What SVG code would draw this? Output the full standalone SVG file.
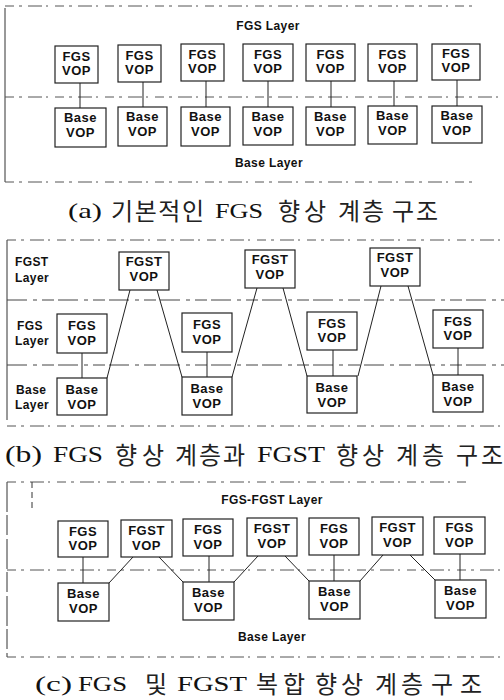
<svg xmlns="http://www.w3.org/2000/svg" width="504" height="700" viewBox="0 0 504 700">
<style>
.bx{fill:#fff;stroke:#222;stroke-width:1.2}
.t{font-family:"Liberation Sans",Arial,sans-serif;font-weight:bold;font-size:13px;fill:#111;text-anchor:middle;letter-spacing:0.5px}
.lb{font-family:"Liberation Sans",Arial,sans-serif;font-weight:bold;font-size:12px;fill:#111;letter-spacing:0.4px}
.cl{font-family:"Liberation Serif","Times New Roman",serif;fill:#111}
.ck{font-family:"Noto Sans CJK KR",sans-serif;fill:#222;font-size:24px}
.fr{stroke:#333;stroke-width:1;fill:none}
.d1{stroke:#555;stroke-width:1;fill:none;stroke-dasharray:9 5 3 6 14 4 2 7}
.d2{stroke:#444;stroke-width:1;fill:none;stroke-dasharray:20 6 4 5 12 4}
.c{stroke:#222;stroke-width:1;fill:none}
</style>
<g id="frames">
<path class="fr" d="M5,8 V182"/>
<path class="d1" d="M5,6 H473"/>
<path class="d1" d="M5,182 H473"/>
<path class="d1" d="M5,97 H504"/>
<path class="fr" d="M7,240 V420"/>
<path class="d1" d="M7,240 H504"/>
<path class="d2" d="M7,300 H504"/>
<path class="d2" d="M7,365 H504"/>
<path class="d1" d="M7,426 H504"/>
<path class="fr" d="M7,482 V657" stroke-dasharray="30 3 20 4"/>
<path class="d1" d="M7,482 H470"/>
<path class="fr" d="M32,482 V512" stroke-dasharray="6 4"/>
<path class="d1" d="M7,570 H504"/>
<path class="d1" d="M7,657 H504"/>
</g>
<g id="labels">
<text class="lb" x="268" y="30" text-anchor="middle">FGS Layer</text>
<text class="lb" x="269" y="167" text-anchor="middle">Base Layer</text>
<text class="lb" x="15" y="266">FGST</text>
<text class="lb" x="15" y="282">Layer</text>
<text class="lb" x="17" y="330">FGS</text>
<text class="lb" x="15" y="345">Layer</text>
<text class="lb" x="16" y="394">Base</text>
<text class="lb" x="15" y="409">Layer</text>
<text class="lb" x="272" y="504" text-anchor="middle">FGS-FGST Layer</text>
<text class="lb" x="272" y="641" text-anchor="middle">Base Layer</text>
</g>
<g id="connectors">
<path class="c" d="M80,83 V108 M143,82 V107 M206,81 V107 M268,81 V107 M331,81 V107 M394,81 V106 M457,80 V106"/>
<path class="c" d="M82,353 V378 M207,352 V377 M333,350 V376 M458,348 V375"/>
<path class="c" d="M130,290 L107,378 M157,290 L182,377 M257,288 L232,377 M283,288 L307,376 M381,286 L358,376 M408,286 L433,375"/>
<path class="c" d="M83,557 V583 M209,556 V582 M334,555 V581 M460,554 V580"/>
<path class="c" d="M133,557 L109,583 M159,557 L183,582 M258,556 L234,582 M285,556 L309,581 M383,555 L360,581 M410,555 L435,580"/>
</g>
<g id="a_fgs1"><rect class="bx" x="55" y="46" width="43" height="37"/><text class="t" x="76.5" y="61">FGS</text><text class="t" x="76.5" y="75">VOP</text></g>
<g id="a_fgs2"><rect class="bx" x="118" y="45" width="43" height="37"/><text class="t" x="139.5" y="60">FGS</text><text class="t" x="139.5" y="74">VOP</text></g>
<g id="a_fgs3"><rect class="bx" x="181" y="44" width="43" height="37"/><text class="t" x="202.5" y="59">FGS</text><text class="t" x="202.5" y="73">VOP</text></g>
<g id="a_fgs4"><rect class="bx" x="243" y="44" width="50" height="37"/><text class="t" x="268" y="59">FGS</text><text class="t" x="268" y="73">VOP</text></g>
<g id="a_fgs5"><rect class="bx" x="306" y="44" width="49" height="37"/><text class="t" x="330.5" y="59">FGS</text><text class="t" x="330.5" y="73">VOP</text></g>
<g id="a_fgs6"><rect class="bx" x="368" y="44" width="49" height="37"/><text class="t" x="392.5" y="59">FGS</text><text class="t" x="392.5" y="73">VOP</text></g>
<g id="a_fgs7"><rect class="bx" x="432" y="44" width="48" height="36"/><text class="t" x="456" y="58">FGS</text><text class="t" x="456" y="72">VOP</text></g>
<g id="a_base1"><rect class="bx" x="55" y="108" width="51" height="39"/><text class="t" x="80.5" y="122">Base</text><text class="t" x="80.5" y="137">VOP</text></g>
<g id="a_base2"><rect class="bx" x="118" y="107" width="49" height="39"/><text class="t" x="142.5" y="121">Base</text><text class="t" x="142.5" y="136">VOP</text></g>
<g id="a_base3"><rect class="bx" x="181" y="107" width="49" height="39"/><text class="t" x="205.5" y="121">Base</text><text class="t" x="205.5" y="136">VOP</text></g>
<g id="a_base4"><rect class="bx" x="243" y="107" width="50" height="38"/><text class="t" x="268" y="121">Base</text><text class="t" x="268" y="136">VOP</text></g>
<g id="a_base5"><rect class="bx" x="306" y="107" width="49" height="38"/><text class="t" x="330.5" y="121">Base</text><text class="t" x="330.5" y="136">VOP</text></g>
<g id="a_base6"><rect class="bx" x="368" y="106" width="49" height="38"/><text class="t" x="392.5" y="120">Base</text><text class="t" x="392.5" y="135">VOP</text></g>
<g id="a_base7"><rect class="bx" x="432" y="106" width="50" height="37"/><text class="t" x="457" y="120">Base</text><text class="t" x="457" y="135">VOP</text></g>
<g id="b_fgst1"><rect class="bx" x="119" y="252" width="50" height="38"/><text class="t" x="144" y="266">FGST</text><text class="t" x="144" y="281">VOP</text></g>
<g id="b_fgst2"><rect class="bx" x="245" y="250" width="50" height="38"/><text class="t" x="270" y="264">FGST</text><text class="t" x="270" y="279">VOP</text></g>
<g id="b_fgst3"><rect class="bx" x="370" y="248" width="50" height="38"/><text class="t" x="395" y="262">FGST</text><text class="t" x="395" y="277">VOP</text></g>
<g id="b_fgs1"><rect class="bx" x="57" y="314" width="50" height="39"/><text class="t" x="82" y="330">FGS</text><text class="t" x="82" y="345">VOP</text></g>
<g id="b_fgs2"><rect class="bx" x="182" y="313" width="50" height="39"/><text class="t" x="207" y="329">FGS</text><text class="t" x="207" y="344">VOP</text></g>
<g id="b_fgs3"><rect class="bx" x="307" y="312" width="50" height="38"/><text class="t" x="332" y="328">FGS</text><text class="t" x="332" y="342">VOP</text></g>
<g id="b_fgs4"><rect class="bx" x="433" y="310" width="50" height="38"/><text class="t" x="458" y="326">FGS</text><text class="t" x="458" y="340">VOP</text></g>
<g id="b_base1"><rect class="bx" x="57" y="378" width="50" height="37"/><text class="t" x="82" y="394">Base</text><text class="t" x="82" y="409">VOP</text></g>
<g id="b_base2"><rect class="bx" x="182" y="377" width="50" height="38"/><text class="t" x="207" y="393">Base</text><text class="t" x="207" y="408">VOP</text></g>
<g id="b_base3"><rect class="bx" x="307" y="376" width="50" height="37"/><text class="t" x="332" y="392">Base</text><text class="t" x="332" y="407">VOP</text></g>
<g id="b_base4"><rect class="bx" x="433" y="375" width="50" height="37"/><text class="t" x="458" y="391">Base</text><text class="t" x="458" y="406">VOP</text></g>
<g id="c_fgs1"><rect class="bx" x="58" y="521" width="50" height="36"/><text class="t" x="83" y="536">FGS</text><text class="t" x="83" y="550">VOP</text></g>
<g id="c_fgst1"><rect class="bx" x="121" y="520" width="51" height="37"/><text class="t" x="146.5" y="535">FGST</text><text class="t" x="146.5" y="550">VOP</text></g>
<g id="c_fgs2"><rect class="bx" x="183" y="519" width="50" height="37"/><text class="t" x="208" y="534">FGS</text><text class="t" x="208" y="549">VOP</text></g>
<g id="c_fgst2"><rect class="bx" x="247" y="518" width="50" height="38"/><text class="t" x="272" y="533">FGST</text><text class="t" x="272" y="548">VOP</text></g>
<g id="c_fgs3"><rect class="bx" x="309" y="518" width="50" height="37"/><text class="t" x="334" y="533">FGS</text><text class="t" x="334" y="548">VOP</text></g>
<g id="c_fgst3"><rect class="bx" x="372" y="517" width="51" height="38"/><text class="t" x="397.5" y="532">FGST</text><text class="t" x="397.5" y="547">VOP</text></g>
<g id="c_fgs4"><rect class="bx" x="434" y="517" width="51" height="37"/><text class="t" x="459.5" y="532">FGS</text><text class="t" x="459.5" y="547">VOP</text></g>
<g id="c_base1"><rect class="bx" x="58" y="583" width="51" height="38"/><text class="t" x="83.5" y="598">Base</text><text class="t" x="83.5" y="613">VOP</text></g>
<g id="c_base2"><rect class="bx" x="183" y="582" width="51" height="38"/><text class="t" x="208.5" y="597">Base</text><text class="t" x="208.5" y="612">VOP</text></g>
<g id="c_base3"><rect class="bx" x="309" y="581" width="51" height="38"/><text class="t" x="334.5" y="596">Base</text><text class="t" x="334.5" y="611">VOP</text></g>
<g id="c_base4"><rect class="bx" x="435" y="580" width="51" height="38"/><text class="t" x="460.5" y="595">Base</text><text class="t" x="460.5" y="610">VOP</text></g>
<g id="caption_a" font-size="22">
<text class="cl" x="68" y="218" textLength="34" lengthAdjust="spacingAndGlyphs">(a)</text>
<text class="ck" x="111" y="220" textLength="93">기본적인</text>
<text class="cl" x="215" y="218" textLength="48" lengthAdjust="spacingAndGlyphs">FGS</text>
<text class="ck" x="278" y="220" textLength="48">향상</text>
<text class="ck" x="338" y="220" textLength="46">계층</text>
<text class="ck" x="392" y="220" textLength="46">구조</text>
</g>
<g id="caption_b" font-size="23">
<text class="cl" x="5" y="462" textLength="37" lengthAdjust="spacingAndGlyphs">(b)</text>
<text class="cl" x="53" y="462" textLength="50" lengthAdjust="spacingAndGlyphs">FGS</text>
<text class="ck" x="115" y="464" textLength="49">향상</text>
<text class="ck" x="175" y="464" textLength="70">계층과</text>
<text class="cl" x="257" y="462" textLength="68" lengthAdjust="spacingAndGlyphs">FGST</text>
<text class="ck" x="336" y="464" textLength="48">향상</text>
<text class="ck" x="396" y="464" textLength="48">계층</text>
<text class="ck" x="456" y="464" textLength="47">구조</text>
</g>
<g id="caption_c" font-size="22">
<text class="cl" x="35" y="691" textLength="37" lengthAdjust="spacingAndGlyphs">(c)</text>
<text class="cl" x="78" y="691" textLength="49" lengthAdjust="spacingAndGlyphs">FGS</text>
<text class="ck" x="145" y="693" textLength="24">및</text>
<text class="cl" x="177" y="691" textLength="70" lengthAdjust="spacingAndGlyphs">FGST</text>
<text class="ck" x="256" y="693" textLength="49">복합</text>
<text class="ck" x="315" y="693" textLength="48">향상</text>
<text class="ck" x="375" y="693" textLength="48">계층</text>
<text class="ck" x="431" y="693" textLength="51">구조</text>
</g>
</svg>
